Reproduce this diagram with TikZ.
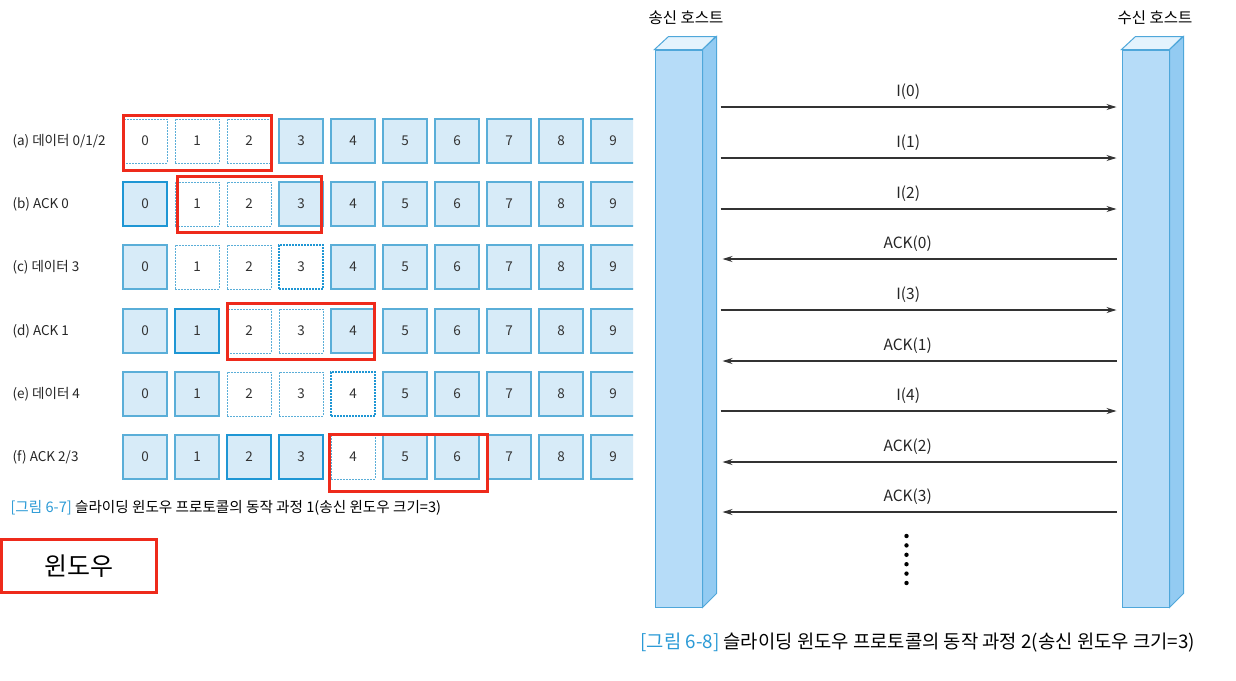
\documentclass[tikz,border=0pt]{standalone}
\usepackage{fontspec}
\setmainfont{Noto Sans CJK KR}
\usetikzlibrary{arrows.meta}
\definecolor{cellfill}{HTML}{D7EBF8}
\definecolor{cellline}{HTML}{5AAED8}
\definecolor{cellbold}{HTML}{1E96D4}
\definecolor{winred}{HTML}{EE2A1B}
\definecolor{capblue}{HTML}{2A9AD6}
\definecolor{pfront}{HTML}{B6DCF8}
\definecolor{ptop}{HTML}{E4F3FD}
\definecolor{pside}{HTML}{93CBF2}
\definecolor{pline}{HTML}{4FA7DA}
\tikzset{
  cell/.style={draw=cellline, fill=cellfill, line width=1.2pt, minimum size=44, inner sep=0,
    font=\fontsize{13.5}{16}\selectfont, text=black!80},
  stn/.style={},
  stw/.style={fill=white, line width=0.8pt, dash pattern=on 2pt off 1pt},
  stb/.style={draw=cellbold, line width=2.4pt},
  std/.style={fill=white, draw=cellbold, line width=2.2pt, dash pattern=on 2pt off 1pt},
  win/.style={draw=winred, line width=3pt},
  rowlab/.style={anchor=west, font=\fontsize{13.5}{16}\selectfont, text=black!85},
  msg/.style={draw=black!80, line width=1.1pt, -{Stealth[length=10,width=6]}},
  msglab/.style={font=\fontsize{15.5}{18}\selectfont, text=black!85, above=4},
  pillar/.style={draw=pline, fill=pfront, line width=1pt, minimum width=47, minimum height=557, inner sep=0},
  host/.style={font=\fontsize{15.5}{18}\selectfont},
}
\begin{document}
\begin{tikzpicture}[x=1pt,y=-1pt]
\fill[white] (0,0) rectangle (1236,680);
\useasboundingbox (0,0) rectangle (1236,680);

% frame rows
\begin{scope}
\clip (0,0) rectangle (633,680);
\foreach \r/\y/\sts in {a/141/{w,w,w,n,n,n,n,n,n,n}, b/204/{b,w,w,n,n,n,n,n,n,n},
    c/267/{n,w,w,d,n,n,n,n,n,n}, d/331/{n,b,w,w,n,n,n,n,n,n},
    e/394/{n,n,w,w,d,n,n,n,n,n}, f/457/{n,n,b,b,w,n,n,n,n,n}}
  \foreach \s [count=\i from 0] in \sts
    \node[cell, st\s] (\r\i) at (145+52*\i,\y) {\i};
\end{scope}

\node[rowlab] (la) at (9,141) {(a) 데이터 0/1/2};
\node[rowlab] (lb) at (9,204) {(b) ACK 0};
\node[rowlab] (lc) at (9,267) {(c) 데이터 3};
\node[rowlab] (ld) at (9,331) {(d) ACK 1};
\node[rowlab] (le) at (9,394) {(e) 데이터 4};
\node[rowlab] (lf) at (9,457) {(f) ACK 2/3};

% sender windows
\draw[win] ([shift={(1,-3)}]a0.north west) rectangle ([shift={(0,7)}]a2.south east);
\draw[win] ([shift={(2.5,-5.5)}]b1.north west) rectangle ([shift={(-2.5,5.5)}]b3.south east);
\draw[win] ([shift={(0.5,-5.5)}]d2.north west) rectangle ([shift={(-1.5,5.5)}]d4.south east);
\draw[win] ([shift={(-1.5,-0.5)}]f4.north west) rectangle ([shift={(7.5,11.5)}]f6.south east);

\node[anchor=west, font=\fontsize{14.6}{17}\selectfont] (cap1) at (7,508)
  {\textcolor{capblue}{[그림 6-7]} 슬라이딩 윈도우 프로토콜의 동작 과정 1(송신 윈도우 크기=3)};
\node[win, minimum width=155, minimum height=53, font=\fontsize{25}{28}\selectfont] (wlab) at (79,566) {윈도우};

% hosts
\node[pillar] (snd) at (678.5,328.5) {};
\node[pillar] (rcv) at (1145.5,328.5) {};
\foreach \h in {snd,rcv} {
  \filldraw[draw=pline, fill=ptop, line width=1pt] (\h.north west) -- ++(14,-13) -- ++(47,0) -- (\h.north east) -- cycle;
  \filldraw[draw=pline, fill=pside, line width=1pt] (\h.north east) -- ++(14,-13) -- ++(0,557) -- (\h.south east) -- cycle;
}
\node[host] (hs) at (686,18) {송신 호스트};
\node[host] (hr) at (1155,18) {수신 호스트};

% messages
\foreach \y/\t [count=\k] in {107/I(0), 158/I(1), 209/I(2), 310/I(3), 411/I(4)} {
  \coordinate (m\k) at (0,\y);
  \draw[msg] ([xshift=18]snd.east |- m\k) -- ([xshift=-5]rcv.west |- m\k) node[msglab, pos=0.474] (t\k) {\t};
}
\foreach \y/\t [count=\k] in {259/ACK(0), 361/ACK(1), 462/ACK(2), 512/ACK(3)} {
  \coordinate (n\k) at (0,\y);
  \draw[msg] ([xshift=-5]rcv.west |- n\k) -- ([xshift=20]snd.east |- n\k) node[msglab, pos=0.53] (u\k) {\t};
}
\foreach \j in {0,...,5}
  \fill (906.5,536+9.4*\j) circle (2.2);

\node[anchor=west, font=\fontsize{18.8}{22}\selectfont] (cap2) at (637,643)
  {\textcolor{capblue}{[그림 6-8]} 슬라이딩 윈도우 프로토콜의 동작 과정 2(송신 윈도우 크기=3)};
\end{tikzpicture}
\end{document}
